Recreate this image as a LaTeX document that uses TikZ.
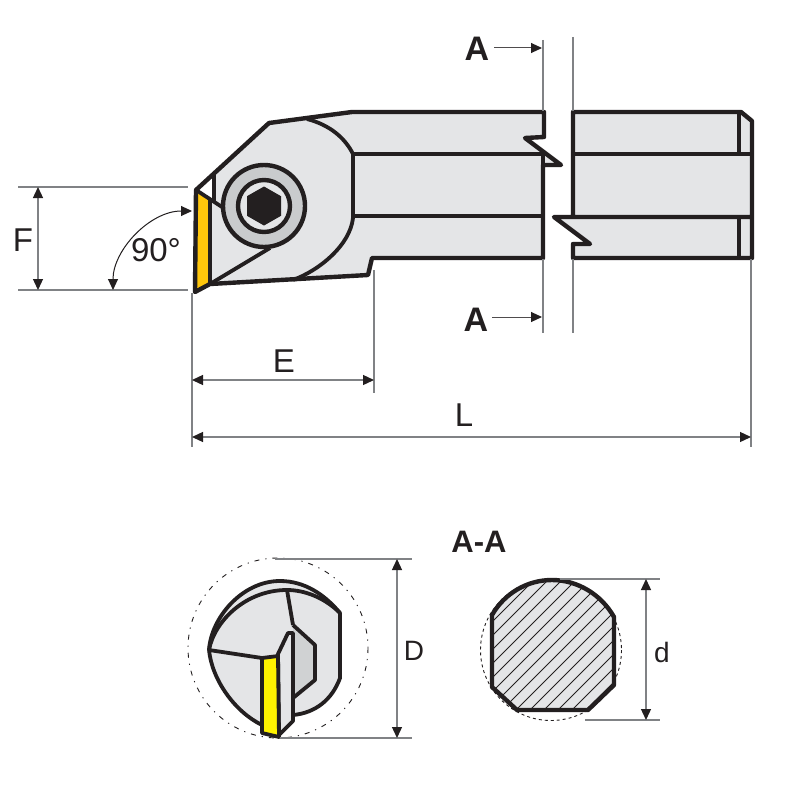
\documentclass[tikz,border=0pt]{standalone}
\usepackage{fontspec}
\setmainfont{Liberation Sans}
\usetikzlibrary{arrows.meta}
\definecolor{bodygray}{HTML}{E4E5E7}
\definecolor{ringgray}{HTML}{C9CBCD}
\definecolor{facetgray}{HTML}{D0D2D3}
\definecolor{inkblack}{HTML}{231F20}
\definecolor{insertorange}{HTML}{FFC60B}
\definecolor{insertyellow}{HTML}{FFF200}
\definecolor{dimgray}{HTML}{808285}
\begin{document}
\begin{tikzpicture}
    [x=1pt,y=-1pt,
     outline/.style={draw=inkblack,line width=4.4pt,line join=round},
     thinout/.style={draw=inkblack,line width=3.8pt,line join=round},
     extline/.style={draw=dimgray,line width=1.3pt},
     dimline/.style={draw=dimgray,line width=1.3pt,{Triangle[length=11pt,width=10pt,color=inkblack]}-{Triangle[length=11pt,width=10pt,color=inkblack]}},
     angline/.style={draw=inkblack,line width=1pt,{Triangle[length=11pt,width=10pt]}-{Triangle[length=11pt,width=10pt]}},
     secline/.style={draw=inkblack!80,line width=1pt,-{Triangle[length=11pt,width=10pt,color=inkblack]}},
     dimlabel/.style={font=\fontsize{33}{36}\selectfont,text=inkblack,inner sep=0pt},
     seclabel/.style={font=\fontsize{34}{36}\selectfont\bfseries,text=inkblack,inner sep=0pt}]
    \useasboundingbox (0,0) rectangle (800,800);
    \fill[white] (0,0) rectangle (800,800);
    % holder, left part
    \fill[bodygray] (196,190) -- (269,123) -- (352,112) -- (544,112) -- (544,137) -- (525,138)
      -- (561,165) -- (543,165) -- (543,258) -- (372,258) -- (368,275) -- (210,284) -- (195,292) -- cycle;
    \fill[white] (196,190) -- (214,175) -- (214,202) -- cycle;
    \fill[insertorange] (196,190) -- (210,200) -- (210,284) -- (195,292) -- cycle;
    \draw[outline] (210,200) -- (210,284);
    \draw[thinout] (196,190) -- (222,207);
    \draw[thinout] (214,175) -- (214,202);
    \draw[thinout] (210,284) -- (270,248);
    \draw[thinout] (307,119) .. controls (330,125) and (345,138) .. (353,154)
      -- (353,218) .. controls (350,245) and (320,270) .. (293,280);
    \draw[thinout] (353,154) -- (543,154);
    \draw[thinout] (353,216) -- (543,216);
    \draw[outline] (196,190) -- (269,123) -- (352,112) -- (544,112) -- (544,137) -- (525,138)
      -- (561,165) -- (543,165) -- (543,258) -- (372,258) -- (368,275) -- (210,284) -- (195,292) -- cycle;
    \draw[outline] (543,154) -- (543,165);
    % screw
    \draw[outline,fill=ringgray] (264,206) circle (41);
    \draw[outline,fill=bodygray] (264,206) circle (26);
    \fill[inkblack] (264,186.5) -- (281,196.2) -- (281,215.8) -- (264,225.5) -- (247,215.8) -- (247,196.2) -- cycle;
    % holder, right part
    \fill[bodygray] (573,112) -- (741,112) -- (752,121) -- (752,258) -- (573,258) -- (573,244)
      -- (590,244) -- (554,217) -- (573,217) -- cycle;
    \draw[thinout] (573,154) -- (752,154);
    \draw[thinout] (739,112) -- (739,154);
    \draw[thinout] (739,216) -- (739,258);
    \draw[outline] (573,217) -- (573,112) -- (741,112) -- (752,121) -- (752,258) -- (573,258)
      -- (573,244) -- (590,244) -- (554,217) -- (752,217);
    % section marks
    \coordinate (cutla) at (543,40);
    \coordinate (cutlb) at (543,111);
    \coordinate (cutlc) at (543,259);
    \coordinate (cutld) at (543,333);
    \coordinate (cutra) at (573,37);
    \coordinate (cutrb) at (573,111);
    \coordinate (cutrc) at (573,259);
    \coordinate (cutrd) at (573,333);
    \draw[extline] (cutla) -- (cutlb);
    \draw[extline] (cutlc) -- (cutld);
    \draw[extline] (cutra) -- (cutrb);
    \draw[extline] (cutrc) -- (cutrd);
    \node[seclabel] (secaup) at (477,49) {A};
    \node[seclabel] (secalow) at (476,320) {A};
    \coordinate (secaupend) at (542,48);
    \coordinate (secalowend) at (542,317);
    \draw[secline] (secaup.east) ++(5,-1) -- (secaupend);
    \draw[secline] (secalow.east) ++(4,-3) -- (secalowend);
    % dimension F and angle
    \coordinate (fa) at (18,187);
    \coordinate (fb) at (188,187);
    \coordinate (fc) at (18,290);
    \coordinate (fd) at (188,290);
    \coordinate (fup) at (38,187);
    \coordinate (flow) at (38,290);
    \draw[extline] (fa) -- (fb);
    \draw[extline] (fc) -- (fd);
    \draw[dimline] (fup) -- (flow);
    \node[dimlabel] (flabel) at (23,240) {F};
    \coordinate (anga) at (192,211);
    \coordinate (angb) at (113,290);
    \draw[angline] (anga) .. controls (150,211) and (113,250) .. (angb);
    \node[dimlabel] (anglabel) at (156,250) {90°};
    % dimensions E and L
    \coordinate (ea) at (192,293);
    \coordinate (eb) at (192,447);
    \coordinate (ec) at (374,270);
    \coordinate (ed) at (374,393);
    \coordinate (la) at (751,259);
    \coordinate (lb) at (751,447);
    \draw[extline] (ea) -- (eb);
    \draw[extline] (ec) -- (ed);
    \draw[extline] (la) -- (lb);
    \coordinate (eleft) at (192,380);
    \coordinate (eright) at (374,380);
    \coordinate (lleft) at (192,437);
    \coordinate (lright) at (751,437);
    \draw[dimline] (eleft) -- (eright);
    \draw[dimline] (lleft) -- (lright);
    \node[dimlabel] (elabel) at (284,361) {E};
    \node[dimlabel] (llabel) at (464,415) {L};
    % end view
    \draw[draw=inkblack,line width=.9pt,dash pattern=on 5pt off 6pt on 1.2pt off 6pt] (278,648) circle (90);
    \fill[bodygray] (209,650) .. controls (211,618) and (242,581) .. (280,581)
      .. controls (305,581) and (325,595) .. (340,613) -- (340,678)
      .. controls (332,700) and (315,713) .. (293,715) -- (279,737) -- (262,733) -- (262,725)
      .. controls (235,712) and (212,680) .. (209,650) -- cycle;
    \draw[thinout] (209,650) .. controls (211,618) and (242,581) .. (280,581)
      .. controls (305,581) and (325,595) .. (340,613) -- (340,678)
      .. controls (332,700) and (315,713) .. (293,715);
    \draw[thinout] (209,650) .. controls (214,622) and (245,590) .. (287,590)
      .. controls (305,590) and (325,598) .. (340,613);
    \draw[thinout] (209,650) .. controls (212,680) and (235,712) .. (262,725);
    \draw[thinout] (209,650) -- (262,658);
    \draw[thinout] (287,590) -- (293,625);
    \draw[thinout,fill=facetgray] (293,625) -- (315,645) -- (315,680) -- (293,698);
    \draw[thinout,fill=bodygray] (278,654) -- (288,633) -- (293,633) -- (293,721) -- (279,735) -- cycle;
    \draw[thinout,fill=insertyellow] (262,658) -- (278,656) -- (279,737) -- (262,733) -- cycle;
    \coordinate (da) at (275,559);
    \coordinate (db) at (412,559);
    \coordinate (dc) at (280,738);
    \coordinate (dd) at (412,738);
    \draw[extline] (da) -- (db);
    \draw[extline] (dc) -- (dd);
    \coordinate (dup) at (397,559);
    \coordinate (dlow) at (397,738);
    \draw[dimline] (dup) -- (dlow);
    \node[dimlabel,font=\fontsize{28}{32}\selectfont] (dlabel) at (414,651) {D};
    % section A-A
    \node[seclabel,font=\fontsize{31}{34}\selectfont\bfseries] (seclabel) at (479,542) {A-A};
    \draw[draw=inkblack,line width=.9pt,dashed] (551,650) circle (70.5);
    \fill[bodygray] (492,615) .. controls (504.5,593.4) and (527,580) .. (552,580)
      .. controls (577,580) and (601,594) .. (614,617) -- (614,685) -- (588,710) -- (517,710) -- (492,687) -- cycle;
    \begin{scope}
      \clip (492,615) .. controls (504.5,593.4) and (527,580) .. (552,580)
        .. controls (577,580) and (601,594) .. (614,617) -- (614,685) -- (588,710) -- (517,710) -- (492,687) -- cycle;
      \foreach \hatchx in {-170,-156,...,170}
        \draw[draw=inkblack,line width=.9pt] (470+\hatchx,730) -- (470+\hatchx+170,560);
    \end{scope}
    \draw[outline] (492,615) .. controls (504.5,593.4) and (527,580) .. (552,580)
      .. controls (577,580) and (601,594) .. (614,617) -- (614,685) -- (588,710) -- (517,710) -- (492,687) -- cycle;
    \coordinate (sa) at (560,579);
    \coordinate (sb) at (660,579);
    \coordinate (sc) at (585,720);
    \coordinate (sd) at (660,720);
    \draw[extline] (sa) -- (sb);
    \draw[extline] (sc) -- (sd);
    \coordinate (sup) at (646,579);
    \coordinate (slow) at (646,720);
    \draw[dimline] (sup) -- (slow);
    \node[dimlabel,font=\fontsize{28}{32}\selectfont] (slabel) at (662,652) {d};
  \end{tikzpicture}
\end{document}
